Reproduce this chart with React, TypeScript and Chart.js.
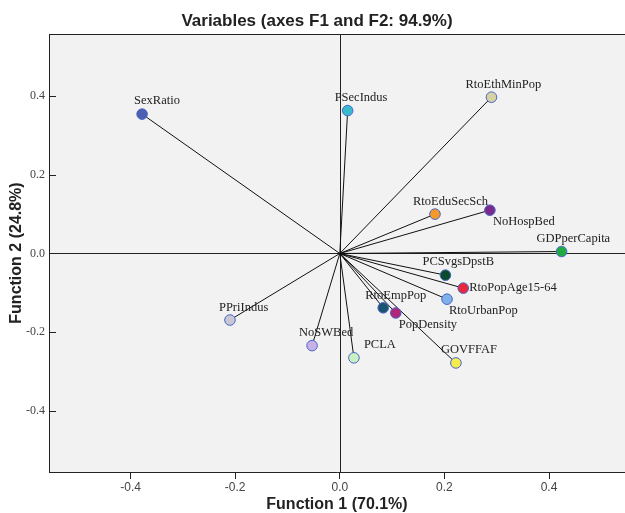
import React, { useEffect, useRef } from "react";
import { Chart, registerables } from "chart.js";

Chart.register(...registerables);

const variables = [
  "SexRatio", "PSecIndus", "RtoEthMinPop", "RtoEduSecSch", "NoHospBed",
  "GDPperCapita", "PCSvgsDpstB", "RtoPopAge15-64", "RtoUrbanPop", "RtoEmpPop",
  "PopDensity", "GOVFFAF", "PCLA", "NoSWBed", "PPriIndus",
];
const f1Values = [-0.378, 0.015, 0.290, 0.182, 0.287, 0.424, 0.202, 0.236, 0.205, 0.083, 0.107, 0.222, 0.027, -0.053, -0.210];
const f2Values = [0.354, 0.363, 0.397, 0.100, 0.110, 0.005, -0.055, -0.088, -0.116, -0.138, -0.151, -0.278, -0.265, -0.234, -0.169];
const pointColors = [
  "#4a5fb0", "#3ab8cc", "#d6d2a4", "#f59a2a", "#7a2a8a",
  "#22aa44", "#0a4a2a", "#e8283c", "#80b0e8", "#1a5470",
  "#b02878", "#f5ec50", "#c8f0c0", "#c8b0e8", "#c8c8d4",
];
// label placement relative to its point (pixels): [dx, dy]
const labelOffsets = [
  [-8, -13], [-13, -13], [-26, -12], [-22, -12], [3, 12],
  [-25, -13], [-23, -13], [6, 0], [2, 12], [-18, -12],
  [3, 12], [-15, -13], [10, -13], [-13, -13], [-11, -12],
];
const tickValues = [-0.4, -0.2, 0.0, 0.2, 0.4];
const chartTitle = "Variables (axes F1 and F2: 94.9%)";
const xTitle = "Function 1 (70.1%)";
const yTitle = "Function 2 (24.8%)";

const overlayPlugin = {
  id: "overlay",
  beforeDraw(chart: any) {
    const { ctx, chartArea: a } = chart;
    ctx.save();
    ctx.fillStyle = "#f2f2f2";
    ctx.fillRect(a.left, a.top, a.right - a.left, a.bottom - a.top);
    ctx.restore();
  },
  beforeDatasetsDraw(chart: any) {
    const { ctx, chartArea: a, scales } = chart;
    const xs = scales.x, ys = scales.y;
    ctx.save();
    ctx.strokeStyle = "#222";
    ctx.lineWidth = 1;
    ctx.beginPath();
    ctx.moveTo(a.left, a.top + 0.5);
    ctx.lineTo(a.right, a.top + 0.5);
    const x0 = Math.round(xs.getPixelForValue(0)) + 0.5;
    const y0 = Math.round(ys.getPixelForValue(0)) + 0.5;
    ctx.moveTo(x0, a.top);
    ctx.lineTo(x0, a.bottom);
    ctx.moveTo(a.left, y0);
    ctx.lineTo(a.right, y0);
    for (const v of tickValues) {
      const py = Math.round(ys.getPixelForValue(v)) + 0.5;
      ctx.moveTo(a.left, py);
      ctx.lineTo(a.left + 7, py);
    }
    ctx.stroke();
    ctx.restore();
  },
  afterDatasetsDraw(chart: any) {
    const { ctx, scales } = chart;
    ctx.save();
    ctx.font = "12.5px 'Liberation Serif', 'Times New Roman', serif";
    ctx.fillStyle = "#222";
    ctx.textAlign = "left";
    ctx.textBaseline = "middle";
    variables.forEach((name, i) => {
      const px = scales.x.getPixelForValue(f1Values[i]);
      const py = scales.y.getPixelForValue(f2Values[i]);
      ctx.fillText(name, px + labelOffsets[i][0], py + labelOffsets[i][1]);
    });
    ctx.restore();
  },
};

export default function App() {
  const ref = useRef<HTMLCanvasElement | null>(null);
  useEffect(() => {
    if (!ref.current) return;
    const points = variables.map((_, i) => ({ x: f1Values[i], y: f2Values[i] }));
    const vectorSets = variables.map((name, i) => ({
      label: name + " vector",
      data: [{ x: 0, y: 0 }, { x: f1Values[i], y: f2Values[i] }],
      showLine: true,
      borderColor: "#111",
      borderWidth: 1,
      pointRadius: 0,
      order: 2,
    }));
    const chart = new Chart(ref.current, {
      type: "scatter",
      data: {
        datasets: [
          {
            label: "Variables",
            data: points,
            pointRadius: 5.3,
            pointBorderWidth: 1,
            pointBackgroundColor: pointColors,
            pointBorderColor: "#4a66c8",
            order: 0,
          },
          ...vectorSets,
        ],
      },
      options: {
        responsive: false,
        animation: false,
        devicePixelRatio: 1,
        layout: { autoPadding: false, padding: { left: 9, right: 0, top: 0, bottom: 0 } },
        plugins: {
          legend: { display: false },
          tooltip: { enabled: false },
          title: {
            display: true,
            text: chartTitle,
            color: "#222",
            font: { family: "'Liberation Sans', Arial, sans-serif", size: 17, weight: "bold" },
            padding: { top: 11, bottom: 2.6 },
          },
        },
        scales: {
          x: {
            type: "linear",
            min: -0.556,
            max: 0.5453,
            afterBuildTicks: (s: any) => { s.ticks = tickValues.map((v) => ({ value: v })); },
            afterFit: (s: any) => { s.height = 41; s.paddingLeft = 0; s.paddingRight = 0; },
            grid: { drawOnChartArea: false, drawTicks: true, tickLength: 7, color: "#222", tickColor: "#222", lineWidth: 1 },
            border: { display: true, color: "#222", width: 1 },
            ticks: {
              padding: 1,
              color: "#444",
              font: { family: "'Liberation Sans', Arial, sans-serif", size: 12 },
              callback: (v: any) => Number(v).toFixed(1),
            },
            title: {
              display: true,
              text: xTitle,
              color: "#222",
              font: { family: "'Liberation Sans', Arial, sans-serif", size: 16, weight: "bold", lineHeight: 1 },
              padding: { top: 0, bottom: 0 },
            },
          },
          y: {
            type: "linear",
            min: -0.555,
            max: 0.5575,
            afterBuildTicks: (s: any) => { s.ticks = tickValues.map((v) => ({ value: v })); },
            afterFit: (s: any) => { s.width = 40; s.paddingTop = 0; s.paddingBottom = 0; },
            grid: { drawOnChartArea: false, drawTicks: false, color: "#222" },
            border: { display: true, color: "#222", width: 1 },
            ticks: {
              padding: 4,
              color: "#444",
              font: { family: "'Liberation Serif', 'Times New Roman', serif", size: 12 },
              callback: (v: any) => Number(v).toFixed(1),
            },
            title: {
              display: true,
              text: yTitle,
              color: "#222",
              font: { family: "'Liberation Sans', Arial, sans-serif", size: 16, weight: "bold", lineHeight: 1 },
              padding: { top: 0, bottom: 0 },
            },
          },
        },
      },
      plugins: [overlayPlugin],
    } as any);
    return () => chart.destroy();
  }, []);
  return (
    <div style={{ position: "absolute", left: 0, top: 0, width: 625, height: 513, background: "#fff" }}>
      <canvas ref={ref} width={625} height={513} />
    </div>
  );
}
